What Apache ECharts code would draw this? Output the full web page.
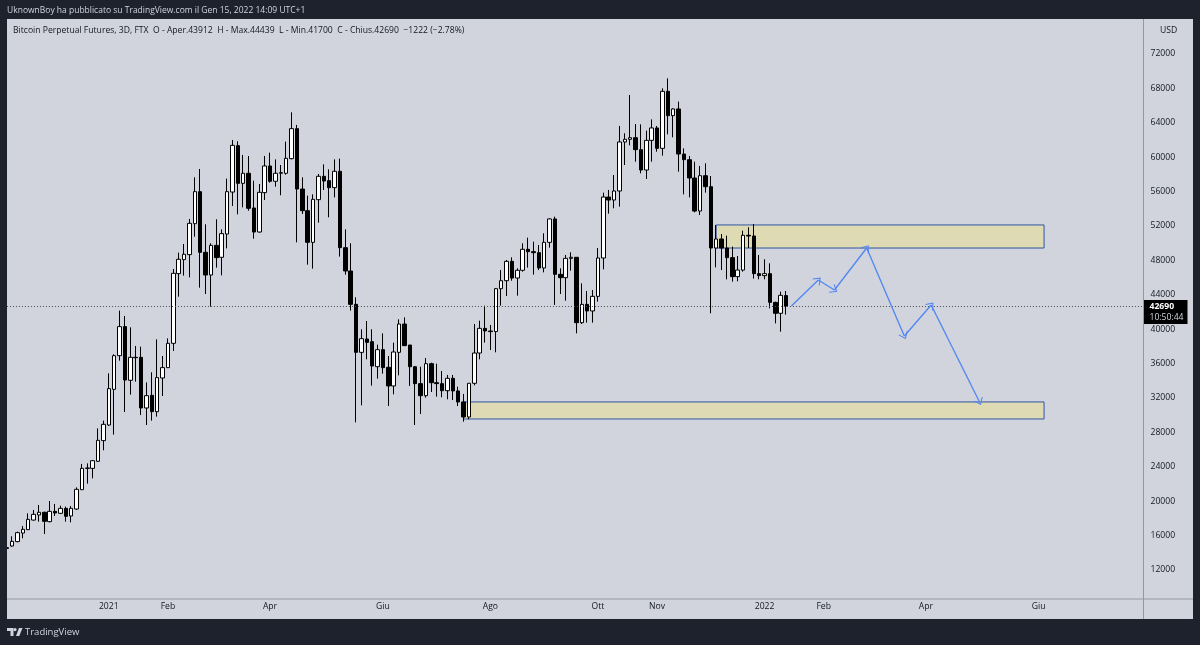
<!DOCTYPE html>
<html><head><meta charset="utf-8">
<style>html,body{margin:0;padding:0;background:#1e222d}#c{width:1200px;height:645px}</style>
<script src="https://cdn.jsdelivr.net/npm/echarts@6/dist/echarts.min.js"></script>
</head><body><div id="c"></div>
<script>
const openPrices = [14500,14790,15300,16300,16690,17810,18400,18710,17620,18820,18590,19170,18280,19090,21340,23820,23820,24640,27040,28860,33010,36920,40300,34060,36730,36730,30840,32310,30410,34330,35530,
38360,46460,48090,48670,52270,55990,48940,46300,49750,48360,51070,55950,61340,56960,58130,54090,51300,55880,58980,57200,58130,58130,59830,63320,56300,53780,50100,55060,57780,57270,56460,58360,49480,46770,42890,
37310,38860,38550,35640,37620,35570,33400,37310,40600,38160,35640,33670,32270,35990,33780,33670,32850,34290,32820,31540,29790,33710,37230,40100,39790,39720,44710,45640,47890,45950,46850,49290,49020,48900,47120,50100,52820,46380,45990,48240,48360,
40760,42890,42120,43820,48280,55370,55020,56070,61770,62080,62270,60880,58510,61960,63400,61030,67660,64830,65610,60370,59710,57580,53740,57850,56570,49440,50490,49440,48320,46110,46880,50920,50840,46460,46230,46460,43120,41850,43912];
const closePrices = [14600,15330,16340,16730,17890,18470,18710,17660,18820,18630,19170,18240,19170,21380,23820,23860,24710,27080,28940,33090,36920,40300,34090,36730,36690,30840,32270,30410,34370,35530,38360,
46500,48130,48710,52310,55990,48940,46300,49750,48320,51110,55990,61380,56960,58130,54060,51300,55920,58980,57200,58130,58200,59870,63320,56300,53780,50100,55100,57780,57230,56460,58360,49480,46770,42890,37310,
38900,38470,35720,37620,35530,33400,37350,40600,38090,35640,33670,32270,35990,33780,33670,32850,34290,32820,31540,29790,33710,37230,40100,39790,39720,44710,45640,47890,45950,46850,49290,49020,48900,47120,50100,52820,46380,45990,48240,48360,40760,
42890,42120,43820,48280,55370,55020,56070,61770,62080,62270,60880,58510,61960,63400,61030,67660,64830,65610,60370,59710,57580,53740,57850,56570,49440,50490,49440,48320,46110,46880,50920,50840,46460,46230,46460,43120,41850,43940,42690];
const lowPrices = [14130,14710,15220,15680,16650,17740,17620,16190,17540,18280,18510,17620,17540,18980,21300,22040,22660,24560,25920,28750,27740,36340,30370,32390,33900,30020,28860,29370,29830,32230,35490,
37470,43780,46230,46030,50760,44830,44090,42620,47160,46260,49400,54330,53360,54170,53780,50530,51230,55020,57040,56570,55570,57970,59750,50100,53400,47500,47040,52390,56190,53010,55330,48440,46340,42160,29170,
31150,36500,33440,34250,34830,31070,32430,34640,38050,33400,28860,30140,32040,32700,32160,32080,31850,31770,31070,29250,29520,33470,36500,38440,37580,37310,42740,43860,45640,43900,46690,47160,46340,46880,46610,49480,42820,44090,43320,46810,39520,
40600,40760,40760,43200,46960,53430,54060,54250,59090,61380,59480,58120,57470,59480,60640,60180,62660,62310,58320,55680,55330,53590,53280,55880,41850,47190,46880,45800,45530,45570,46690,49440,45880,45800,45800,42430,40680,39710,41700];
const highPrices = [14910,15920,16460,17120,18590,18980,19560,18780,20020,19680,19480,19370,19440,21610,24330,24400,24790,28470,29370,34870,37080,42160,41540,40220,38050,37970,33820,34990,38820,36880,38940,
47000,48900,49910,52820,57660,58630,52200,49990,52780,51610,57510,62000,61850,60260,60140,57270,56880,60140,60530,59750,59090,61810,65220,63750,57660,55530,55680,58050,59170,58590,59750,59830,51610,49990,43710,
39990,40950,39990,38200,39520,36880,38440,41150,41380,38170,35720,35640,36650,36110,35990,35140,34680,34680,33320,32470,33710,40600,40990,42740,40490,44790,46880,48050,48360,47080,49990,50640,50180,49790,51150,52890,53090,47080,48630,48940,48370,
45330,44440,44560,49440,55880,56190,57930,63630,62780,67230,63860,63820,63090,64400,63630,68010,69170,65680,66460,61030,60140,59480,58980,59290,57810,52120,51070,50880,49600,48510,51460,51850,52230,48630,48130,47660,43200,44370,44439];

const slotCount = 212;
const timeLabelSlots = [19,30,49,70,90,110,121,141,152,171,192];
const timeLabels = ['2021','Feb','Apr','Giu','Ago','Ott','Nov','2022','Feb','Apr','Giu'];
const lastPrice = 42690;
const zoneSlots = [[132,193],[85,193]];
const zonePrices = [[52120,49440],[31540,29560]];
const arrowSlots = [146,151,154,160,167,172,181];
const arrowPrices = [42690,45720,44560,49440,39210,42810,31540];

const frame = '#1e222d', panel = '#d1d4dc', ink = '#131722', blue = '#4f85f5';
const font = '"Open Sans", "Noto Sans", sans-serif';
const fs = 8.6;
const categories = Array.from({length: slotCount}, (_, i) => String(i));
const labelBySlot = Object.fromEntries(timeLabelSlots.map((s, i) => [s, timeLabels[i]]));
const candles = openPrices.map((o, i) => [o, closePrices[i], lowPrices[i], highPrices[i]]);
const chevron = 'path://M10,0 L20,13 L18.4,14.2 L10,3.4 L1.6,14.2 L0,13 Z';
const arrows = arrowSlots.slice(1).map((s, i) => [
  {coord: [arrowSlots[i], arrowPrices[i]]},
  {coord: [s, arrowPrices[i + 1]]}
]);
const rect = (x, y, width, height, fill, z) => ({type: 'rect', shape: {x, y, width, height}, style: {fill}, z, silent: true});
const text = (x, y, t, fill, size, extra) => ({type: 'text', x, y, z: 200, silent: true,
  style: Object.assign({text: t, fill, font: size + 'px ' + font, textVerticalAlign: 'middle'}, extra || {})});
const poly = (points, fill) => ({type: 'polygon', z: 200, silent: true, shape: {points}, style: {fill}});

const chart = echarts.init(document.getElementById('c'), null, {renderer: 'canvas'});
chart.setOption({
  animation: false,
  backgroundColor: frame,
  grid: {left: 3.94, width: 1139.56, top: 19.6, height: 584.8, containLabel: false},
  xAxis: {
    type: 'category', data: categories, boundaryGap: true,
    axisLine: {show: false}, axisTick: {show: false}, splitLine: {show: false},
    axisLabel: {interval: 0, margin: -2, color: ink, fontSize: fs, fontFamily: font, hideOverlap: false,
      formatter: (v, i) => labelBySlot[i] || ''}
  },
  yAxis: {
    type: 'value', position: 'right', min: 8000, max: 76000, interval: 4000,
    axisLine: {show: false}, axisTick: {show: false}, splitLine: {show: false},
    axisLabel: {margin: 7, color: ink, fontSize: fs, fontFamily: font, showMinLabel: false, showMaxLabel: false,
      formatter: v => String(v)}
  },
  series: [
    {
      type: 'candlestick', data: candles, barWidth: 4,
      itemStyle: {color: '#ffffff', color0: '#000000', borderColor: '#000000', borderColor0: '#000000', borderWidth: 1},
      markArea: {
        silent: true,
        itemStyle: {color: '#dedab3', borderColor: '#2f55a4', borderWidth: 1},
        data: zoneSlots.map((s, i) => [
          {coord: [s[0], zonePrices[i][0]]},
          {coord: [s[1], zonePrices[i][1]]}
        ])
      },
      markLine: {
        silent: true, symbol: 'none',
        lineStyle: {color: '#4a4d55', type: [1, 2], width: 1},
        label: {
          position: 'end', distance: 0, offset: [0, 6],
          formatter: '{a|' + lastPrice + '}\n{b|10:50:44}',
          backgroundColor: '#000000', padding: [1, 4, 1, 6],
          rich: {
            a: {color: '#ffffff', fontSize: fs, fontWeight: 'bold', fontFamily: font, lineHeight: 11, align: 'left'},
            b: {color: '#d1d4dc', fontSize: fs, fontFamily: font, lineHeight: 11, align: 'left'}
          }
        },
        data: [{yAxis: lastPrice}]
      }
    },
    {
      type: 'line', data: [], silent: true,
      markLine: {
        silent: true, symbol: ['none', chevron], symbolSize: [10, 7], precision: 2,
        lineStyle: {color: blue, type: 'solid', width: 1.3},
        label: {show: false},
        data: arrows
      }
    }
  ],
  graphic: [
    rect(7, 19, 1186, 600, panel, -1),
    rect(0, 0, 7, 645, frame, 100),
    rect(1193, 0, 7, 645, frame, 100),
    rect(0, 0, 1200, 19, frame, 100),
    rect(0, 619, 1200, 26, frame, 100),
    rect(7, 598.5, 1186, 1, '#9598a1', 50),
    rect(1143, 19, 1, 600, '#9598a1', 50),
    text(7, 11, 'UknownBoy ha pubblicato su TradingView.com il Gen 15, 2022 14:09 UTC+1', '#d1d4dc', 8.5),
    text(13, 30.5, 'Bitcoin Perpetual Futures, 3D, FTX  O - Aper.43912  H - Max.44439  L - Min.41700  C - Chius.42690  \u22121222 (\u22122.78%)', ink, 8.6),
    text(1160, 31, 'USD', ink, fs),
    text(25, 632, 'TradingView', '#d1d4dc', 9.5),
    poly([[7,628],[13.5,628],[13.5,636],[10.5,636],[10.5,631],[7,631]], '#d1d4dc'),
    {type: 'circle', z: 200, silent: true, shape: {cx: 15, cy: 629.6, r: 1.6}, style: {fill: '#d1d4dc'}},
    poly([[16,636],[19,628],[22.5,628],[19.3,636]], '#d1d4dc')
  ]
});
</script></body></html>
